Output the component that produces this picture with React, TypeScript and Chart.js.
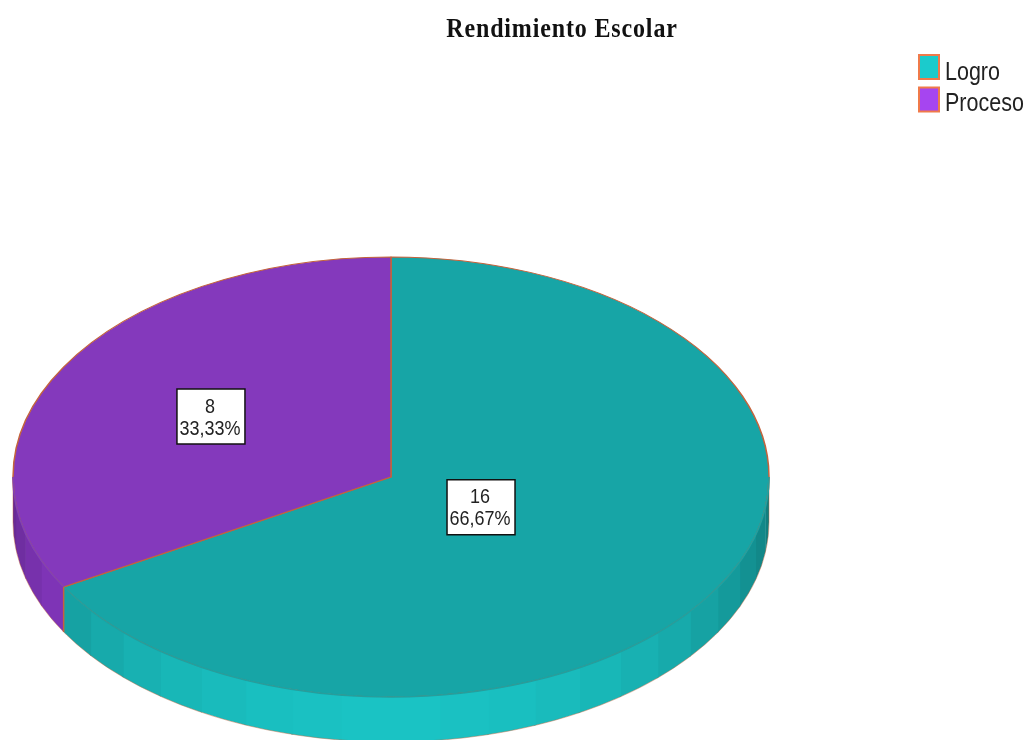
import React, { useEffect, useRef } from "react";
import { Chart, registerables } from "chart.js";

Chart.register(...registerables);

const TITLE = "Rendimiento Escolar";
const categories = ["Logro", "Proceso"];
const counts = [16, 8];
const topColors = ["#17A5A6", "#8439BC"];
const legendColors = ["#1BCBCC", "#A645F0"];
const wallBase = [
  [27, 203, 204],
  [166, 69, 240],
];
const labelRadiusFraction = [0.275, 0.55];

const BORDER = "#C4633C";
const SQUASH = 220 / 378;
const DEPTH = 45;
const FACET = Math.PI / 24;
const SANS = '"Liberation Sans", Arial, sans-serif';

const shade = (rgb: number[], a: number) => {
  const f = 0.6 + 0.36 * Math.sin(a);
  return `rgb(${rgb.map((c) => Math.round(c * f)).join(",")})`;
};

// draws text stretched vertically, as in the reference picture
const tallText = (ctx: any, text: string, x: number, baseline: number, sy: number) => {
  ctx.save();
  ctx.translate(x, baseline);
  ctx.scale(1, sy);
  ctx.textBaseline = "alphabetic";
  ctx.fillText(text, 0, 0);
  ctx.restore();
};

const pie3d = {
  id: "pie3d",
  beforeDatasetDraw(chart: any) {
    const arc = chart.getDatasetMeta(0).data[0];
    const ctx = chart.ctx;
    ctx.save();
    ctx.translate(0, arc.y);
    ctx.scale(1, SQUASH);
    ctx.translate(0, -arc.y);
  },
  afterDatasetDraw(chart: any) {
    const ctx = chart.ctx;
    ctx.restore();
    const arcs = chart.getDatasetMeta(0).data;
    const cx = arcs[0].x;
    const cy = arcs[0].y;
    const rx = arcs[0].outerRadius;
    const ry = rx * SQUASH;

    // side wall, made of flat facets
    arcs.forEach((arc: any, i: number) => {
      const from = Math.max(arc.startAngle, 0);
      const to = Math.min(arc.endAngle, Math.PI);
      if (to <= from) return;
      let a = from;
      while (a < to - 1e-6) {
        const b = Math.min((Math.floor(a / FACET + 1e-6) + 1) * FACET, to);
        const over = Math.min(b + 0.006, to);
        ctx.beginPath();
        ctx.ellipse(cx, cy, rx, ry, 0, a, over);
        ctx.ellipse(cx, cy + DEPTH, rx, ry, 0, over, a, true);
        ctx.closePath();
        ctx.fillStyle = shade(wallBase[i], (a + b) / 2);
        ctx.fill();
        a = b;
      }
    });

    // outer silhouette
    ctx.strokeStyle = "rgba(196,99,60,0.45)";
    ctx.lineWidth = 1;
    ctx.beginPath();
    ctx.moveTo(cx + rx, cy);
    ctx.lineTo(cx + rx, cy + DEPTH);
    ctx.ellipse(cx, cy + DEPTH, rx, ry, 0, 0, Math.PI);
    ctx.lineTo(cx - rx, cy);
    ctx.stroke();

    // front rim of the top face: the slice colour hides the border there
    arcs.forEach((arc: any, i: number) => {
      const from = Math.max(arc.startAngle, 0);
      const to = Math.min(arc.endAngle, Math.PI);
      if (to <= from) return;
      ctx.strokeStyle = topColors[i];
      ctx.lineWidth = 1.6;
      ctx.beginPath();
      ctx.ellipse(cx, cy, rx, ry, 0, from, to);
      ctx.stroke();
    });
    ctx.strokeStyle = "rgba(120,125,110,0.22)";
    ctx.lineWidth = 1;
    ctx.beginPath();
    ctx.ellipse(cx, cy, rx, ry, 0, 0, Math.PI);
    ctx.stroke();

    // vertical seam where the slices meet at the front
    arcs.forEach((arc: any) => {
      const e = arc.endAngle;
      if (e > 0 && e < Math.PI) {
        const x = cx + rx * Math.cos(e);
        const y = cy + ry * Math.sin(e);
        ctx.strokeStyle = BORDER;
        ctx.lineWidth = 1.5;
        ctx.beginPath();
        ctx.moveTo(x, y);
        ctx.lineTo(x, y + DEPTH);
        ctx.stroke();
      }
    });
  },
  afterDatasetsDraw(chart: any) {
    const ctx = chart.ctx;
    const arcs = chart.getDatasetMeta(0).data;
    const values: number[] = chart.data.datasets[0].data;
    const total = values.reduce((s, v) => s + v, 0);

    // value labels
    arcs.forEach((arc: any, i: number) => {
      const mid = (arc.startAngle + arc.endAngle) / 2;
      const r = arc.outerRadius * labelRadiusFraction[i];
      const x = arc.x + r * Math.cos(mid);
      const y = arc.y + r * SQUASH * Math.sin(mid);
      ctx.fillStyle = "#fff";
      ctx.strokeStyle = "#111";
      ctx.lineWidth = 1.5;
      ctx.fillRect(x - 34, y - 27.5, 68, 55);
      ctx.strokeRect(x - 34, y - 27.5, 68, 55);
      ctx.fillStyle = "#222";
      ctx.font = `18px ${SANS}`;
      ctx.textAlign = "center";
      const pct = ((values[i] / total) * 100).toFixed(2).replace(".", ",") + "%";
      tallText(ctx, String(values[i]), x - 1, y - 4, 1.16);
      tallText(ctx, pct, x - 1, y + 18, 1.16);
    });

    // title
    ctx.save();
    ctx.fillStyle = "#111";
    ctx.font = 'bold 24px "Liberation Serif", serif';
    ctx.letterSpacing = "0.85px";
    ctx.textAlign = "center";
    tallText(ctx, TITLE, 562, 37, 1.15);
    ctx.restore();

    // legend
    const labels: string[] = chart.data.labels;
    labels.forEach((label, i) => {
      const top = 55 + i * 32.5;
      ctx.fillStyle = legendColors[i];
      ctx.strokeStyle = "#F07A4A";
      ctx.lineWidth = 2;
      ctx.fillRect(919, top, 20, 24);
      ctx.strokeRect(919, top, 20, 24);
      ctx.fillStyle = "#222";
      ctx.font = `21.5px ${SANS}`;
      ctx.textAlign = "left";
      tallText(ctx, label, 945, top + (i === 0 ? 25 : 23), 1.17);
    });
  },
};

export default function App() {
  const ref = useRef<HTMLCanvasElement>(null);
  useEffect(() => {
    const chart = new Chart(ref.current as HTMLCanvasElement, {
      type: "pie",
      data: {
        labels: categories,
        datasets: [
          {
            data: counts,
            backgroundColor: topColors,
            borderColor: BORDER,
            borderWidth: 1.5,
            clip: false,
          } as any,
        ],
      },
      options: {
        animation: false,
        responsive: false,
        radius: 378,
        layout: { padding: { left: 13, right: 262, top: 214, bottom: 0 } },
        plugins: {
          legend: { display: false },
          title: { display: false },
          tooltip: { enabled: false },
        },
      } as any,
      plugins: [pie3d],
    });
    return () => chart.destroy();
  }, []);
  return (
    <canvas
      ref={ref}
      width={1031}
      height={740}
      style={{ position: "fixed", left: 0, top: 0, width: 1031, height: 740, display: "block", background: "#fff", filter: "blur(0.4px)" }}
    />
  );
}
